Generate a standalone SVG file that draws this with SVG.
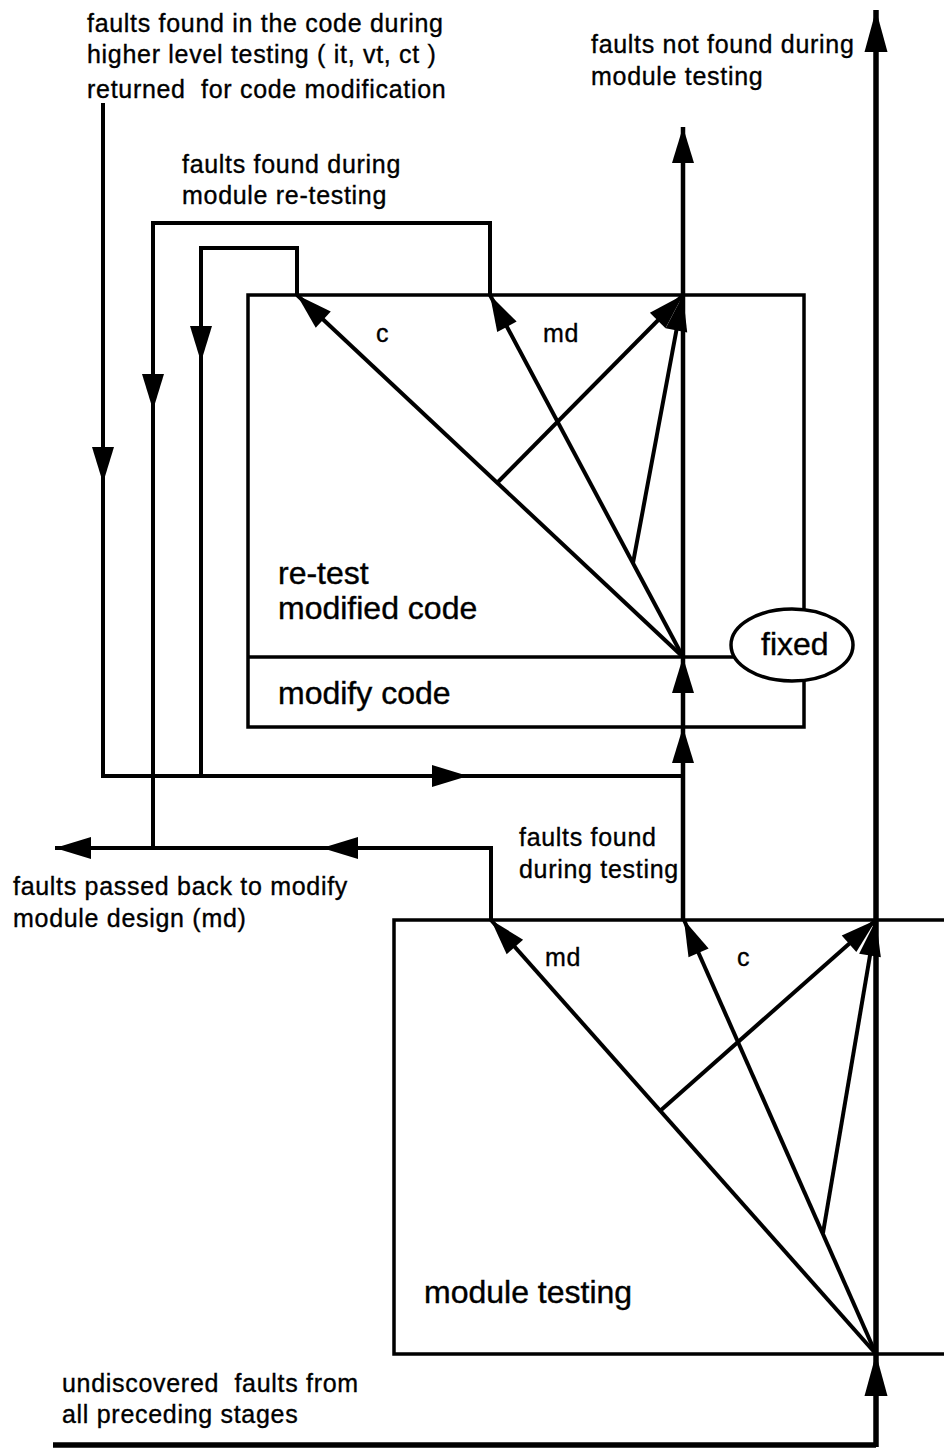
<svg xmlns="http://www.w3.org/2000/svg" width="944" height="1448" viewBox="0 0 944 1448">
  <style>
    .ln { fill: none; stroke: #000; stroke-width: 4; }
    .box { fill: none; stroke: #000; stroke-width: 3.5; }
    .main { fill: none; stroke: #000; stroke-width: 5.5; }
    .mid { fill: none; stroke: #000; stroke-width: 4.5; }
    .sm { font-family: "Liberation Sans", Arial, Helvetica, sans-serif; font-size: 25px; letter-spacing: 0.7px; fill: #000; stroke: #000; stroke-width: 0.35px; }
    .lg { font-family: "Liberation Sans", Arial, Helvetica, sans-serif; font-size: 32px; fill: #000; stroke: #000; stroke-width: 0.4px; }
  </style>
  <defs>
    <marker id="ah" markerUnits="userSpaceOnUse" markerWidth="36" markerHeight="22" refX="36" refY="11" orient="auto" overflow="visible">
      <path d="M0,0 L36,11 L0,22 z" fill="#000"/>
    </marker>
    <marker id="ahL" markerUnits="userSpaceOnUse" markerWidth="42" markerHeight="23" refX="42" refY="11.5" orient="auto" overflow="visible">
      <path d="M0,0 L42,11.5 L0,23 z" fill="#000"/>
    </marker>
  </defs>
  <rect width="944" height="1448" fill="#fff"/>

  <!-- upper stage: re-test modified code / modify code -->
  <g id="node-retest">
    <rect class="box" x="248" y="295" width="556" height="432"/>
    <line class="box" x1="248" y1="657" x2="804" y2="657"/>
    <text class="lg" x="278" y="584">re-test</text>
    <text class="lg" x="278" y="619">modified code</text>
    <text class="lg" x="278" y="704">modify code</text>
  </g>

  <!-- fixed outlet -->
  <g id="node-fixed">
    <ellipse cx="792" cy="645" rx="61" ry="36" fill="#fff" stroke="#000" stroke-width="3.5"/>
    <text class="lg" x="761" y="655">fixed</text>
  </g>

  <!-- lower stage: module testing (open to the right) -->
  <g id="node-module-testing">
    <path class="box" d="M944,920 H394 V1354 H944"/>
    <text class="lg" x="424" y="1303">module testing</text>
  </g>

  <g id="connectors">
    <!-- through-flow of undiscovered faults -->
    <path class="main" d="M53,1445 H876"/>
    <path class="main" d="M876,1447 V1354" marker-end="url(#ahL)"/>
    <path class="main" d="M876,1354 V10" marker-end="url(#ahL)"/>

    <!-- module testing outcomes -->
    <path class="ln" d="M876,1354 L491,920" marker-end="url(#ah)"/>
    <path class="ln" d="M876,1354 L684,920" marker-end="url(#ah)"/>
    <path class="ln" d="M660,1111 L876,920" marker-end="url(#ah)"/>
    <path class="ln" d="M823,1233 L876,920" marker-end="url(#ah)"/>

    <!-- faults found during testing: to modify code -->
    <path class="mid" d="M683,920 V727" marker-end="url(#ah)"/>
    <path class="mid" d="M683,727 V657" marker-end="url(#ah)"/>
    <path class="mid" d="M683,657 V295"/>
    <path class="mid" d="M683,295 V127" marker-end="url(#ah)"/>

    <!-- re-test outcomes -->
    <path class="ln" d="M683,657 L297,295" marker-end="url(#ah)"/>
    <path class="ln" d="M683,657 L490,295" marker-end="url(#ah)"/>
    <path class="ln" d="M497,483 L683,295" marker-end="url(#ah)"/>
    <path class="ln" d="M633,563 L683,295" marker-end="url(#ah)"/>

    <!-- md back to module design -->
    <path class="ln" d="M491,920 V848 H55"/>
    <path class="ln" d="M360,848 H322" marker-end="url(#ah)"/>
    <path class="ln" d="M90,848 H55" marker-end="url(#ah)"/>

    <!-- md found during re-testing -->
    <path class="ln" d="M490,295 V223 H153 V848"/>
    <path class="ln" d="M153,380 V410" marker-end="url(#ah)"/>

    <!-- c found during re-testing -->
    <path class="ln" d="M297,295 V248 H201 V776"/>
    <path class="ln" d="M201,332 V362" marker-end="url(#ah)"/>

    <!-- higher level faults returned for code modification -->
    <path class="ln" d="M103,103 V776 H683"/>
    <path class="ln" d="M103,453 V483" marker-end="url(#ah)"/>
    <path class="ln" d="M430,776 H468" marker-end="url(#ah)"/>
  </g>

  <g id="labels">
    <text class="sm" x="87" y="32">faults found in the code during</text>
    <text class="sm" x="87" y="63">higher level testing ( it, vt, ct )</text>
    <text class="sm" x="87" y="98" xml:space="preserve">returned  for code modification</text>
    <text class="sm" x="182" y="173">faults found during</text>
    <text class="sm" x="182" y="204">module re-testing</text>
    <text class="sm" x="591" y="53">faults not found during</text>
    <text class="sm" x="591" y="85">module testing</text>
    <text class="sm" x="376" y="342">c</text>
    <text class="sm" x="543" y="342">md</text>
    <text class="sm" x="519" y="846">faults found</text>
    <text class="sm" x="519" y="878">during testing</text>
    <text class="sm" x="13" y="895">faults passed back to modify</text>
    <text class="sm" x="13" y="927">module design (md)</text>
    <text class="sm" x="545" y="966">md</text>
    <text class="sm" x="737" y="966">c</text>
    <text class="sm" x="62" y="1392" xml:space="preserve">undiscovered  faults from</text>
    <text class="sm" x="62" y="1423">all preceding stages</text>
  </g>
</svg>
